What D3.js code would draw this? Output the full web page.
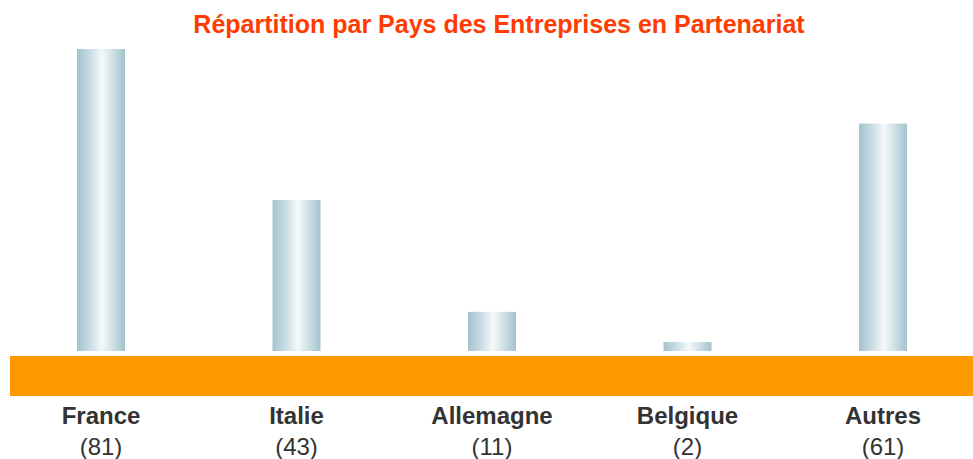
<!DOCTYPE html>
<html>
<head>
<meta charset="utf-8">
<script src="https://cdn.jsdelivr.net/npm/d3@7"></script>
<style>
  body { margin: 0; background: #fff; }
  svg { display: block; font-family: "Liberation Sans", Arial, Helvetica, sans-serif; }
</style>
</head>
<body>
<svg id="chart" width="973" height="459"></svg>
<script>
//<![CDATA[
const chartTitle = "Répartition par Pays des Entreprises en Partenariat";
const countries = ["France", "Italie", "Allemagne", "Belgique", "Autres"];
const counts = [81, 43, 11, 2, 61];
// bar heights as drawn in the picture (not strictly proportional to the counts)
const barLevels = [81, 40.5, 10.5, 2.4, 61];

function buildCountryBars(svgid) {
  const svg = d3.select(svgid);
  const width = 973;
  const baseY = 351;
  const barWidth = 48;

  // gradient for the cylinder-looking bars
  const defs = svg.append("defs");
  const grad = defs.append("linearGradient")
    .attr("id", "barGrad")
    .attr("x1", "0%").attr("x2", "100%")
    .attr("y1", "0%").attr("y2", "0%");
  grad.append("stop").attr("offset", "0%").attr("stop-color", "#a4c2ce");
  grad.append("stop").attr("offset", "28%").attr("stop-color", "#cadde4");
  grad.append("stop").attr("offset", "52%").attr("stop-color", "#f5f9fb");
  grad.append("stop").attr("offset", "78%").attr("stop-color", "#c9dce3");
  grad.append("stop").attr("offset", "100%").attr("stop-color", "#a4c2ce");

  const xScale = d3.scalePoint()
    .domain(countries)
    .range([101, 883]);

  const yScale = d3.scaleLinear()
    .domain([0, 81])
    .range([baseY, 49]);

  // title
  svg.append("text")
    .attr("x", 499)
    .attr("y", 33)
    .attr("text-anchor", "middle")
    .style("font-size", "25px")
    .style("font-weight", "bold")
    .style("fill", "#ff3c00")
    .text(chartTitle);

  // bars
  svg.selectAll(".bar")
    .data(countries)
    .enter().append("rect")
    .attr("class", "bar")
    .attr("x", d => xScale(d) - barWidth / 2)
    .attr("y", (d, i) => yScale(barLevels[i]))
    .attr("width", barWidth)
    .attr("height", (d, i) => baseY - yScale(barLevels[i]))
    .attr("fill", "url(#barGrad)");

  // orange floor
  svg.append("rect")
    .attr("x", 10)
    .attr("y", 356)
    .attr("width", width - 10)
    .attr("height", 40)
    .attr("fill", "#ff9900");

  // country names
  svg.selectAll(".name")
    .data(countries)
    .enter().append("text")
    .attr("class", "name")
    .attr("x", d => xScale(d))
    .attr("y", 424)
    .attr("text-anchor", "middle")
    .style("font-size", "24px")
    .style("font-weight", "bold")
    .style("fill", "#333")
    .text(d => d);

  // counts
  svg.selectAll(".count")
    .data(countries)
    .enter().append("text")
    .attr("class", "count")
    .attr("x", d => xScale(d))
    .attr("y", 455)
    .attr("text-anchor", "middle")
    .style("font-size", "24px")
    .style("fill", "#333")
    .text((d, i) => "(" + counts[i] + ")");
}

buildCountryBars("#chart");
//]]>
</script>
</body>
</html>
